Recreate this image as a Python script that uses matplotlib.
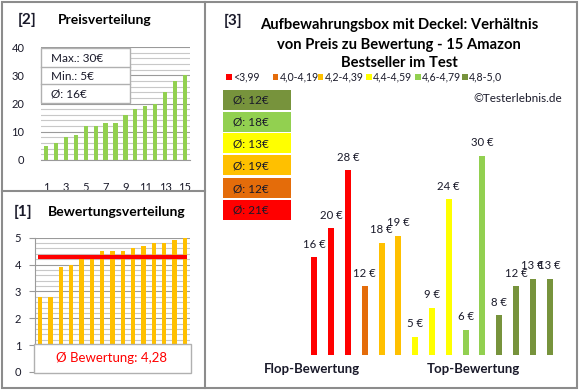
import numpy as np
import matplotlib
matplotlib.use("Agg")
import matplotlib.pyplot as plt
from matplotlib.patches import Rectangle
from matplotlib.lines import Line2D

plt.rcParams['font.family'] = ['Lato', 'DejaVu Sans']

# ---------------- data ----------------
prices_sorted = [5, 6, 8, 9, 12, 12, 13, 13, 16, 18, 19, 20, 24, 28, 30]
ratings_sorted = [2.8, 2.8, 3.9, 4.0, 4.2, 4.2, 4.5, 4.5, 4.5, 4.6, 4.7, 4.8, 4.8, 4.9, 5.0]
# right panel: prices ordered by rating (flop -> top)
prices_by_rating = [16, 20, 28, 12, 18, 19, 5, 9, 24, 6, 30, 8, 12, 13, 13]
category_of_bar = [0, 0, 0, 1, 2, 2, 3, 3, 3, 4, 4, 5, 5, 5, 5]
category_labels = ["<3,99", "4,0-4,19", "4,2-4,39", "4,4-4,59", "4,6-4,79", "4,8-5,0"]
category_colors = ["#FF0000", "#E46C0A", "#FFC000", "#FFFF00", "#92D050", "#77933C"]
x_ticks_top = [1, 3, 5, 7, 9, 11, 13, 15]

W, H = 580, 390
fig = plt.figure(figsize=(5.8, 3.9), dpi=100)

def fx(x):
    return x / W

def fy(y):
    return 1 - y / H

def ax_rect(x0, y0, x1, y1):
    return [fx(x0), fy(y1), fx(x1) - fx(x0), fy(y0) - fy(y1)]

TXT = "#1a1a2a"
GRID_MAJ = "#9a9a9a"
GRID_MIN = "#c8c8c8"

# ---------------- frame ----------------
frame_c = "#8c8c8c"
fig.add_artist(Rectangle((fx(2), fy(388)), fx(577) - fx(2), fy(2) - fy(388),
                         transform=fig.transFigure, fill=False, ec=frame_c, lw=1.5))
fig.add_artist(Line2D([fx(205), fx(205)], [fy(2), fy(388)], transform=fig.transFigure,
                      color=frame_c, lw=1.5))
fig.add_artist(Line2D([fx(2), fx(205)], [fy(191), fy(191)], transform=fig.transFigure,
                      color=frame_c, lw=1.5))

# ---------------- panel [2] Preisverteilung ----------------
fig.text(fx(27), fy(20), "[2]", ha="center", va="center", fontsize=11, fontweight="bold", color=TXT)
fig.text(fx(58), fy(20), "Preisverteilung", ha="left", va="center", fontsize=10,
         fontweight="bold", color="black")

ax1 = fig.add_axes(ax_rect(41, 47, 190, 160))
idx = np.arange(1, len(prices_sorted) + 1)
ax1.bar(idx, prices_sorted, width=0.42, color="#92D050", zorder=3)
ax1.set_xlim(0.5, 15.5)
ax1.set_ylim(0, 40)
ax1.set_yticks([0, 10, 20, 30, 40])
ax1.set_yticks(np.arange(0, 41, 2), minor=True)
ax1.set_xticks(x_ticks_top)
ax1.grid(axis="y", which="major", color=GRID_MAJ, lw=0.8, zorder=0)
ax1.grid(axis="y", which="minor", color=GRID_MIN, lw=0.8, zorder=0)
for s in ["top", "right", "left"]:
    ax1.spines[s].set_visible(False)
ax1.spines["bottom"].set_color(GRID_MAJ)
ax1.tick_params(axis="y", which="both", length=0, labelsize=8, labelcolor=TXT, pad=12)
ax1.tick_params(axis="x", which="both", length=0, labelsize=8, labelcolor=TXT, pad=16)
ax1.set_axisbelow(True)

# info box
pmax, pmin = max(prices_sorted), min(prices_sorted)
pavg = int(np.floor(np.mean(prices_sorted) + 0.5))
fig.add_artist(Rectangle((fx(41), fy(103)), fx(130) - fx(41), fy(48) - fy(103),
                         transform=fig.transFigure, fc="white", ec="#b0b0b0", lw=1, zorder=5))
for yy in (67, 84):
    fig.add_artist(Line2D([fx(41), fx(130)], [fy(yy), fy(yy)], transform=fig.transFigure,
                          color="#b0b0b0", lw=1, zorder=6))
for yy, t in zip((58, 76, 94), (f"Max.: {pmax}€", f"Min.: {pmin}€", f"Ø: {pavg}€")):
    fig.text(fx(51), fy(yy), t, ha="left", va="center", fontsize=8.5, color=TXT, zorder=7)

# ---------------- panel [1] Bewertungsverteilung ----------------
fig.text(fx(23), fy(212), "[1]", ha="center", va="center", fontsize=11, fontweight="bold", color=TXT)
fig.text(fx(48), fy(212), "Bewertungsverteilung", ha="left", va="center", fontsize=10,
         fontweight="bold", color="black")

ax2 = fig.add_axes(ax_rect(35, 237.7, 190, 372))
ax2.bar(idx, ratings_sorted, width=0.42, color="#FFC000", zorder=3)
ravg = np.mean(ratings_sorted)
ax2.plot([0.8, 15.2], [ravg, ravg], color="#FF0000", lw=3, solid_capstyle="butt", zorder=4)
ax2.set_xlim(0.5, 15.5)
ax2.set_ylim(0, 5)
ax2.set_yticks([0, 1, 2, 3, 4, 5])
ax2.set_yticks(np.arange(0, 5.01, 0.2), minor=True)
ax2.set_xticks([])
ax2.grid(axis="y", which="major", color=GRID_MAJ, lw=0.8, zorder=0)
ax2.grid(axis="y", which="minor", color=GRID_MIN, lw=0.8, zorder=0)
for s in ["top", "right", "bottom"]:
    ax2.spines[s].set_visible(False)
ax2.spines["left"].set_color(GRID_MAJ)
ax2.tick_params(axis="y", which="major", length=4, color=GRID_MAJ, labelsize=8, labelcolor=TXT, pad=6)
ax2.tick_params(axis="y", which="minor", length=0)
ax2.set_axisbelow(True)

fig.add_artist(Rectangle((fx(34), fy(373)), fx(191) - fx(34), fy(344) - fy(373),
                         transform=fig.transFigure, fc="white", ec="#b0b0b0", lw=1, zorder=5))
fig.text(fx(111), fy(358.5), "Ø Bewertung: " + f"{ravg:.2f}".replace(".", ","),
         ha="center", va="center", fontsize=9.5, color="#FF0000", zorder=7)

# ---------------- panel [3] ----------------
fig.text(fx(233), fy(21), "[3]", ha="center", va="center", fontsize=11, fontweight="bold", color=TXT)
title_lines = ["Aufbewahrungsbox mit Deckel: Verhältnis",
               "von Preis zu Bewertung - 15 Amazon",
               "Bestseller im Test"]
for yy, t in zip((25, 45, 63), title_lines):
    fig.text(fx(399), fy(yy), t, ha="center", va="center", fontsize=10.6, fontweight="bold",
             color="black")

# category legend row
leg_sq_x = [226, 272.7, 317.7, 366, 415, 462.3]
for xs, lab, col in zip(leg_sq_x, category_labels, category_colors):
    fig.add_artist(Rectangle((fx(xs), fy(80)), fx(5.5), fy(0) - fy(6),
                             transform=fig.transFigure, fc=col, ec="none"))
    fig.text(fx(xs + 7), fy(77), lab, ha="left", va="center", fontsize=7.6, color=TXT)

fig.text(fx(562), fy(98), "©Testerlebnis.de", ha="right", va="center", fontsize=8.5, color=TXT)

# average boxes (top: best category)
box_tops = [90, 112, 133.5, 155.5, 178, 200]
for k, top in enumerate(box_tops):
    c = len(category_labels) - 1 - k
    vals = [p for p, cc in zip(prices_by_rating, category_of_bar) if cc == c]
    avg = int(np.floor(np.mean(vals) + 0.5))
    fig.add_artist(Rectangle((fx(223), fy(top + 20)), fx(291) - fx(223), fy(0) - fy(20),
                             transform=fig.transFigure, fc=category_colors[c], ec="none"))
    fig.text(fx(233), fy(top + 10.5), f"Ø: {avg}€", ha="left", va="center", fontsize=8.5,
             color=TXT)

ax3 = fig.add_axes(ax_rect(306, 125, 558, 355))
pos = np.arange(1, len(prices_by_rating) + 1)
ax3.bar(pos, prices_by_rating, width=0.36,
        color=[category_colors[c] for c in category_of_bar], zorder=3)
ax3.set_xlim(0.5, 15.5)
ax3.set_ylim(2.5, 2.5 + 230 / 7.24)
ax3.axis("off")
for p, v in zip(pos, prices_by_rating):
    ax3.annotate(f"{v} €", (p, v), xytext=(0, 9.4), textcoords="offset points",
                 ha="center", va="center", fontsize=8.2, color=TXT)

fig.text(fx(312), fy(369), "Flop-Bewertung", ha="center", va="center", fontsize=9.5,
         fontweight="bold", color=TXT)
fig.text(fx(473), fy(369), "Top-Bewertung", ha="center", va="center", fontsize=9.5,
         fontweight="bold", color=TXT)

fig.savefig("out.png", dpi=100)
